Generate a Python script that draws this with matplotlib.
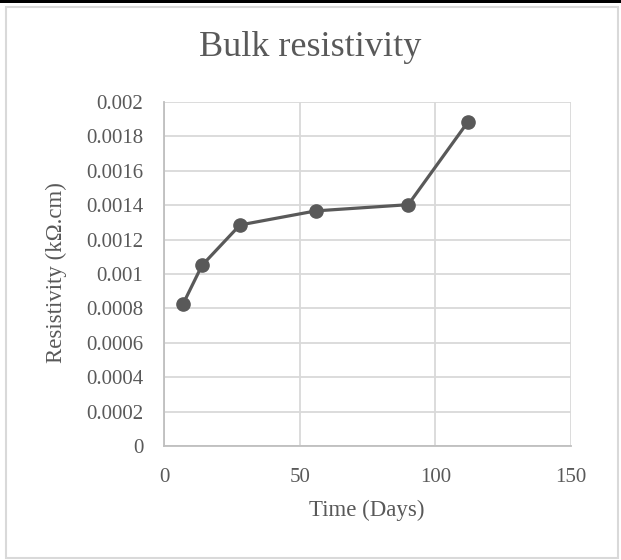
import matplotlib
matplotlib.use("Agg")
import matplotlib.pyplot as plt
from matplotlib.patches import Rectangle
from matplotlib.ticker import FuncFormatter, MultipleLocator

# Measured bulk resistivity over time
days = [7, 14, 28, 56, 90, 112]
resistivity = [0.000825, 0.00105, 0.001285, 0.001367, 0.001403, 0.001884]

x_ticks = [0, 50, 100, 150]
y_max = 0.002
y_step = 0.0002

title = "Bulk resistivity"
x_label = "Time (Days)"
y_label = "Resistivity (kΩ.cm)"

plt.rcParams['font.family'] = ['Liberation Serif', 'DejaVu Serif']
text_color = "#595959"
grid_color = "#d9d9d9"

fig = plt.figure(figsize=(6.21, 5.6), dpi=100)
W, H = 621, 560

# chart frame
fig.patches.append(Rectangle((0, 1 - 3 / H), 1, 3 / H, transform=fig.transFigure,
                             facecolor="black", edgecolor="none", zorder=-2))
fig.patches.append(Rectangle((6 / W, 2 / H), 612 / W, 551 / H, transform=fig.transFigure,
                             facecolor="white", edgecolor=grid_color, linewidth=1.5,
                             zorder=-2))

ax = fig.add_axes([164 / W, 1 - 446 / H, (571 - 164) / W, (446 - 102) / H])
ax.set_facecolor("none")
ax.set_zorder(1)

ax.plot(days, resistivity, color="#595959", linewidth=2.3, marker="o",
        markersize=9.5, zorder=3, clip_on=False)

ax.set_xlim(x_ticks[0], x_ticks[-1])
ax.set_ylim(0, y_max)
ax.set_xticks(x_ticks)
ax.yaxis.set_major_locator(MultipleLocator(y_step))
ax.yaxis.set_major_formatter(FuncFormatter(lambda v, p: "%g" % round(v, 6)))

ax.grid(True, color=grid_color, linewidth=1.3)
ax.set_axisbelow(True)
for side in ["top", "right"]:
    ax.spines[side].set_visible(False)
for side in ["left", "bottom"]:
    ax.spines[side].set_color("#bfbfbf")
    ax.spines[side].set_linewidth(1.3)

ax.tick_params(axis="x", length=0, pad=16, labelsize=15, labelcolor=text_color)
ax.tick_params(axis="y", length=0, pad=15, labelsize=15, labelcolor=text_color)

fig.text(367 / W, 1 - 510 / H, x_label, ha="center", va="center",
         fontsize=16.5, color=text_color)
fig.text(56 / W, 1 - 273 / H, y_label, ha="center", va="center", rotation=90,
         fontsize=16.5, color=text_color)
fig.text(0.5, 1 - 47 / H, title, ha="center", va="center", fontsize=26, color=text_color)

fig.savefig("out.png", dpi=100)
